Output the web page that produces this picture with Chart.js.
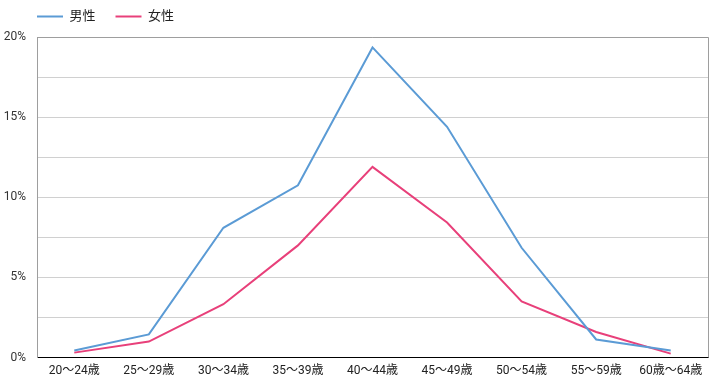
<!DOCTYPE html>
<html>
<head>
<meta charset="utf-8">
<script src="https://cdn.jsdelivr.net/npm/chart.js@4"></script>
<style>
    html, body { margin: 0; padding: 0; background: #fff; }
    #wrap { width: 718px; height: 384px; }
</style>
</head>
<body>
<div id="wrap"><canvas id="chart"></canvas></div>
<script>
const ageGroups = ['20～24歳', '25～29歳', '30～34歳', '35～39歳', '40～44歳', '45～49歳', '50～54歳', '55～59歳', '60歳～64歳'];
const male = [0.44, 1.45, 8.1, 10.75, 19.35, 14.4, 6.85, 1.13, 0.44];
const female = [0.31, 1.0, 3.33, 7.0, 11.9, 8.43, 3.5, 1.6, 0.25];
const yTicks = [0, 5, 10, 15, 20];

const fontFamily = 'Roboto, "Noto Sans CJK JP", sans-serif';

// nudge the legend so it sits over the plot like the original
const legendShift = {
    id: 'legendShift',
    afterLayout(chart) {
        chart.legend.left = 17;
        chart.legend.top -= 4;
    }
};

// gray frame on top and right like the original
const framePlugin = {
    id: 'frame',
    afterDraw(chart) {
        const { ctx, chartArea: a } = chart;
        ctx.save();
        ctx.strokeStyle = '#9e9e9e';
        ctx.lineWidth = 1;
        ctx.beginPath();
        ctx.moveTo(a.left, a.top + 0.5);
        ctx.lineTo(a.right + 0.5, a.top + 0.5);
        ctx.lineTo(a.right + 0.5, a.bottom);
        ctx.stroke();
        ctx.restore();
    }
};

new Chart(document.getElementById('chart'), {
    type: 'line',
    data: {
        labels: ageGroups,
        datasets: [
            { label: '男性', data: male, borderColor: '#5b9bd5', backgroundColor: '#5b9bd5', borderWidth: 2, pointRadius: 0, tension: 0 },
            { label: '女性', data: female, borderColor: '#e8407a', backgroundColor: '#e8407a', borderWidth: 2, pointRadius: 0, tension: 0 }
        ]
    },
    options: {
        responsive: true,
        maintainAspectRatio: false,
        animation: false,
        layout: { padding: { top: -6, left: 0, right: 10, bottom: 0 } },
        plugins: {
            legend: {
                position: 'top',
                align: 'start',
                labels: {
                    usePointStyle: true,
                    pointStyle: 'line',
                    pointStyleWidth: 26,
                    padding: 20,
                    color: '#222',
                    font: { family: fontFamily, size: 13 }
                }
            },
            tooltip: { enabled: false }
        },
        scales: {
            x: {
                offset: true,
                grid: { display: false, drawTicks: false },
                border: { color: '#000', width: 1 },
                ticks: { color: '#222', padding: 6, maxRotation: 0, autoSkip: false, font: { family: fontFamily, size: 12 } }
            },
            y: {
                min: 0,
                max: 20,
                afterFit(scale) { scale.width = 37; },
                border: { color: '#9e9e9e', width: 1 },
                grid: {
                    drawTicks: false,
                    color: ctx => ctx.tick.value === 0 ? 'rgba(0,0,0,0)' : '#d0d0d0'
                },
                ticks: {
                    stepSize: 2.5,
                    padding: 11,
                    color: '#333',
                    font: { family: fontFamily, size: 12 },
                    callback: v => yTicks.includes(v) ? v + '%' : ''
                }
            }
        }
    },
    plugins: [legendShift, framePlugin]
});
</script>
</body>
</html>
